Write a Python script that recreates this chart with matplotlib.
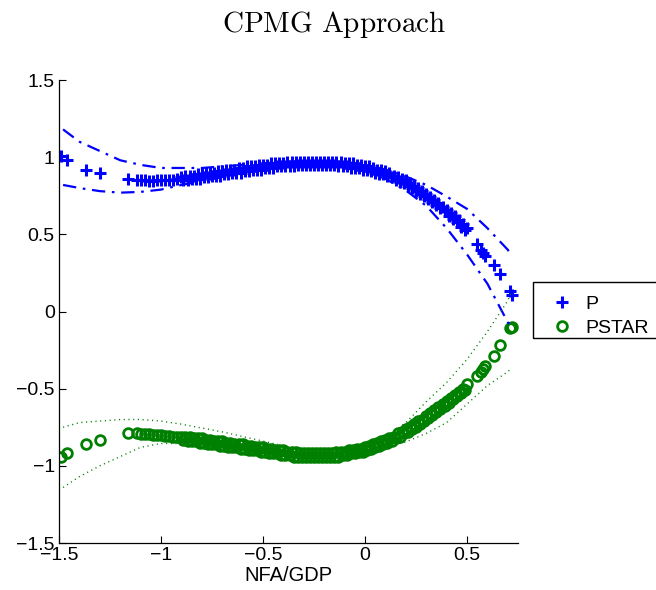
import numpy as np
import matplotlib
matplotlib.use("Agg")
import matplotlib.pyplot as plt
from matplotlib.patches import Rectangle

plt.rcParams['font.family'] = ['Liberation Sans', 'DejaVu Sans']

# NFA/GDP observations (shared by both series)
nfa = np.array([
    -1.49, -1.46, -1.37, -1.30, -1.16,
    -1.12, -1.10, -1.08, -1.06, -1.04, -1.02, -1.00, -0.98, -0.96, -0.94, -0.92,
    -0.90, -0.89, -0.88, -0.87, -0.86, -0.85, -0.84, -0.83, -0.82, -0.81,
    -0.80, -0.79, -0.78, -0.77, -0.76, -0.75, -0.74, -0.73, -0.72, -0.71,
    -0.70, -0.69, -0.68, -0.67, -0.66, -0.65, -0.64, -0.63, -0.62, -0.61,
    -0.60, -0.59, -0.58, -0.57, -0.56, -0.55, -0.54, -0.53, -0.52, -0.51,
    -0.50, -0.49, -0.48, -0.47, -0.46, -0.45, -0.44, -0.43, -0.42, -0.41,
    -0.40, -0.39, -0.38, -0.37, -0.36, -0.35, -0.34, -0.33, -0.32, -0.31,
    -0.30, -0.29, -0.28, -0.27, -0.26, -0.25, -0.24, -0.23, -0.22, -0.21,
    -0.20, -0.19, -0.18, -0.17, -0.16, -0.15, -0.14, -0.13, -0.12, -0.11,
    -0.10, -0.09, -0.08, -0.07, -0.06, -0.05, -0.04, -0.03, -0.02, -0.01,
    0.00, 0.01, 0.02, 0.03, 0.04, 0.05, 0.06, 0.07, 0.08, 0.09,
    0.10, 0.11, 0.12, 0.13, 0.14, 0.15, 0.16, 0.17, 0.18, 0.19,
    0.20, 0.21, 0.22, 0.23, 0.24, 0.25, 0.26, 0.27, 0.28, 0.29,
    0.30, 0.31, 0.32, 0.33, 0.34, 0.35, 0.36, 0.37, 0.38, 0.39,
    0.40, 0.41, 0.42, 0.43, 0.44, 0.45, 0.46, 0.47, 0.48, 0.49,
    0.50,
    0.55, 0.57, 0.58, 0.59, 0.63, 0.66, 0.71, 0.72])

p_vals = np.array([
    1.01, 0.98, 0.92, 0.90, 0.86,
    0.852, 0.850, 0.849, 0.848, 0.848, 0.849, 0.850, 0.851, 0.853, 0.855, 0.857,
    0.87, 0.85, 0.88, 0.85, 0.88, 0.86, 0.88, 0.86, 0.89, 0.86,
    0.89, 0.87, 0.90, 0.87, 0.90, 0.88, 0.90, 0.88, 0.91, 0.88,
    0.91, 0.89, 0.92, 0.89, 0.92, 0.90, 0.92, 0.90, 0.93, 0.90,
    0.93, 0.91, 0.94, 0.91, 0.94, 0.92, 0.94, 0.92, 0.95, 0.92,
    0.95, 0.93, 0.95, 0.93, 0.96, 0.93, 0.96, 0.94, 0.96, 0.94,
    0.96, 0.94, 0.97, 0.94, 0.97, 0.94, 0.97, 0.95, 0.97, 0.95,
    0.97, 0.95, 0.97, 0.95, 0.97, 0.95, 0.97, 0.95, 0.97, 0.95,
    0.97, 0.95, 0.97, 0.95, 0.97, 0.95, 0.97, 0.94, 0.97, 0.94,
    0.96, 0.94, 0.96, 0.93, 0.96, 0.93, 0.95, 0.93, 0.95, 0.92,
    0.94, 0.92, 0.94, 0.91, 0.93, 0.90, 0.92, 0.89, 0.92, 0.89,
    0.91, 0.88, 0.90, 0.87, 0.88, 0.85, 0.87, 0.84, 0.86, 0.83,
    0.85, 0.81, 0.83, 0.80, 0.81, 0.78, 0.80, 0.76, 0.78, 0.75,
    0.76, 0.73, 0.74, 0.71, 0.72, 0.69, 0.70, 0.67, 0.68, 0.65,
    0.66, 0.62, 0.64, 0.60, 0.62, 0.58, 0.59, 0.55, 0.57, 0.53,
    0.54,
    0.44, 0.40, 0.38, 0.36, 0.30, 0.24, 0.13, 0.11])

pstar_vals = np.array([
    -0.94, -0.92, -0.86, -0.83, -0.79,
    -0.790, -0.791, -0.793, -0.795, -0.797, -0.799, -0.801, -0.804, -0.807, -0.810, -0.813,
    -0.81, -0.83, -0.81, -0.84, -0.81, -0.84, -0.82, -0.84, -0.82, -0.85,
    -0.82, -0.85, -0.83, -0.86, -0.83, -0.86, -0.84, -0.86, -0.84, -0.87,
    -0.84, -0.87, -0.85, -0.88, -0.85, -0.88, -0.86, -0.88, -0.86, -0.89,
    -0.86, -0.89, -0.87, -0.90, -0.87, -0.90, -0.88, -0.90, -0.88, -0.91,
    -0.88, -0.91, -0.89, -0.92, -0.89, -0.92, -0.90, -0.92, -0.90, -0.93,
    -0.90, -0.93, -0.91, -0.93, -0.91, -0.94, -0.91, -0.94, -0.92, -0.94,
    -0.92, -0.94, -0.92, -0.94, -0.92, -0.94, -0.92, -0.94, -0.92, -0.94,
    -0.92, -0.94, -0.92, -0.94, -0.92, -0.94, -0.91, -0.94, -0.91, -0.93,
    -0.91, -0.93, -0.90, -0.92, -0.90, -0.92, -0.89, -0.91, -0.89, -0.91,
    -0.88, -0.90, -0.87, -0.89, -0.86, -0.88, -0.85, -0.87, -0.84, -0.86,
    -0.83, -0.85, -0.82, -0.84, -0.81, -0.82, -0.79, -0.81, -0.78, -0.79,
    -0.76, -0.78, -0.75, -0.76, -0.73, -0.75, -0.71, -0.73, -0.70, -0.71,
    -0.68, -0.69, -0.66, -0.67, -0.64, -0.65, -0.62, -0.63, -0.60, -0.61,
    -0.58, -0.59, -0.56, -0.57, -0.54, -0.55, -0.52, -0.53, -0.50, -0.51,
    -0.47,
    -0.42, -0.39, -0.37, -0.35, -0.29, -0.22, -0.11, -0.10])

# confidence bands
band_x = np.array([-1.48, -1.40, -1.30, -1.20, -1.10, -1.00, -0.90, -0.80,
                   -0.70, -0.60, -0.50, -0.40, -0.30, -0.20, -0.10, 0.00,
                   0.10, 0.20, 0.30, 0.40, 0.50, 0.60, 0.70, 0.715])
p_upper = np.array([1.18, 1.10, 1.04, 0.98, 0.95, 0.93, 0.93, 0.93,
                    0.94, 0.95, 0.96, 0.97, 0.975, 0.975, 0.97, 0.95,
                    0.92, 0.875, 0.82, 0.745, 0.665, 0.54, 0.40, 0.37])
p_lower = np.array([0.82, 0.80, 0.78, 0.77, 0.775, 0.79, 0.82, 0.845,
                    0.87, 0.90, 0.925, 0.94, 0.95, 0.95, 0.935, 0.91,
                    0.86, 0.785, 0.685, 0.54, 0.37, 0.18, -0.07, -0.09])
ps_upper = np.array([-0.75, -0.72, -0.71, -0.70, -0.70, -0.71, -0.73, -0.755,
                     -0.78, -0.81, -0.84, -0.87, -0.895, -0.905, -0.90, -0.87,
                     -0.82, -0.72, -0.585, -0.46, -0.31, -0.13, 0.07, 0.12])
ps_lower = np.array([-1.14, -1.07, -1.00, -0.94, -0.88, -0.855, -0.855, -0.87,
                     -0.88, -0.90, -0.915, -0.935, -0.945, -0.95, -0.94, -0.92,
                     -0.88, -0.845, -0.79, -0.72, -0.60, -0.48, -0.39, -0.37])

blue = (0, 0, 1)
green = (0, 0.5, 0)

fig = plt.figure(figsize=(6.56, 5.90), dpi=100)
ax = fig.add_axes([59/656, 47/590, 459/656, 463/590])

hp, = ax.plot(nfa, p_vals, '+', color=blue, ms=8, mew=2.2, ls='none', label='P')
hs, = ax.plot(nfa, pstar_vals, 'o', mfc='none', mec=green, ms=7, mew=2,
              ls='none', label='PSTAR')

ax.plot(band_x, p_upper, color=blue, lw=1.6, dashes=(6, 3, 1.2, 3))
ax.plot(band_x, p_lower, color=blue, lw=1.6, dashes=(6, 3, 1.2, 3))
ax.plot(band_x, ps_upper, color=green, lw=1.0, dashes=(0.8, 2.6))
ax.plot(band_x, ps_lower, color=green, lw=1.0, dashes=(0.8, 2.6))

ax.set_xlim(-1.5, 0.75)
ax.set_ylim(-1.5, 1.5)
ax.set_xticks([-1.5, -1, -0.5, 0, 0.5])
ax.set_xticklabels(['\u22121.5', '\u22121', '\u22120.5', '0', '0.5'])
ax.set_yticks([-1.5, -1, -0.5, 0, 0.5, 1, 1.5])
ax.set_yticklabels(['\u22121.5', '\u22121', '\u22120.5', '0', '0.5', '1', '1.5'])
ax.tick_params(direction='in', length=5, width=0.8, labelsize=14, pad=3)
for side in ('top', 'right'):
    ax.spines[side].set_visible(False)
for side in ('left', 'bottom'):
    ax.spines[side].set_linewidth(0.9)
ax.set_xlabel('NFA/GDP', fontsize=14.5, labelpad=1)

fig.text(0.51, 1 - 24/590, r'$\mathrm{CPMG\ Approach}$', math_fontfamily='cm',
         fontsize=21, ha='center', va='center')

leg = fig.legend(handles=[hp, hs], loc='upper left',
                 bbox_to_anchor=(531/656, 1 - 280/590), frameon=False,
                 fontsize=14, handlelength=1.6, handletextpad=0.4,
                 borderpad=0.3, labelspacing=0.3)
fig.patches.append(Rectangle((533/656, 1 - 338/590), 140/656, 56/590,
                             transform=fig.transFigure, fill=False,
                             edgecolor='black', lw=1.0))

fig.savefig('out.png', dpi=100)
